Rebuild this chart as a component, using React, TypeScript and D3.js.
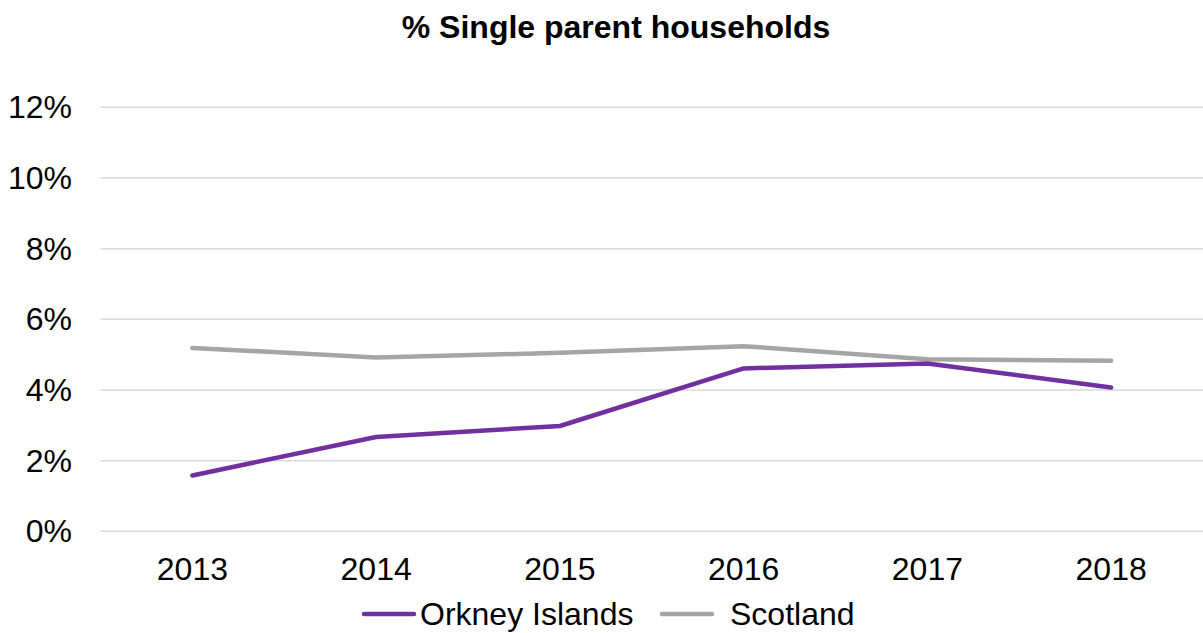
import React from "react";
import * as d3 from "d3";

const years = ["2013", "2014", "2015", "2016", "2017", "2018"];
const orkney = [1.58, 2.67, 2.98, 4.61, 4.75, 4.07];
const scotland = [5.19, 4.92, 5.05, 5.24, 4.87, 4.83];
const yTicks = [0, 2, 4, 6, 8, 10, 12];
const seriesNames = ["Orkney Islands", "Scotland"];
const colors = ["#7030A0", "#A5A5A5"];

const W = 1203;
const H = 633;
const FONT = "'Liberation Sans', Arial, sans-serif";

export default function App() {
  const x = d3.scalePoint<string>().domain(years).range([100.5, 1203]).padding(0.5);
  const y = d3.scaleLinear().domain([0, 12]).range([531.3, 107.3]);
  const line = d3
    .line<number>()
    .x((_, i) => x(years[i]) as number)
    .y((d) => y(d));
  const series = [orkney, scotland];

  return (
    <svg
      width={W}
      height={H}
      style={{ position: "absolute", left: 0, top: 0, background: "#fff" }}
      fontFamily={FONT}
    >
      <text x={616} y={38} textAnchor="middle" fontSize={32} fontWeight="bold" fill="#000">
        % Single parent households
      </text>
      {yTicks.map((t) => (
        <g key={t}>
          <line x1={100.5} x2={1203} y1={y(t)} y2={y(t)} stroke="#D9D9D9" strokeWidth={1.5} />
          <text x={72} y={y(t) + 11} textAnchor="end" fontSize={32} fill="#000">
            {t}%
          </text>
        </g>
      ))}
      {years.map((yr) => (
        <text key={yr} x={x(yr)} y={580} textAnchor="middle" fontSize={32} fill="#000">
          {yr}
        </text>
      ))}
      {[1, 0].map((si) => (
        <path
          key={si}
          d={line(series[si]) as string}
          fill="none"
          stroke={colors[si]}
          strokeWidth={4.5}
          strokeLinecap="round"
          strokeLinejoin="round"
        />
      ))}
      {seriesNames.map((name, i) => {
        const lx = i === 0 ? 364 : 662;
        const tx = i === 0 ? 420 : 730;
        return (
          <g key={name}>
            <line x1={lx} x2={lx + 50} y1={614} y2={614} stroke={colors[i]} strokeWidth={4.5} strokeLinecap="round" />
            <text x={tx} y={625} fontSize={32} fill="#000">
              {name}
            </text>
          </g>
        );
      })}
    </svg>
  );
}
